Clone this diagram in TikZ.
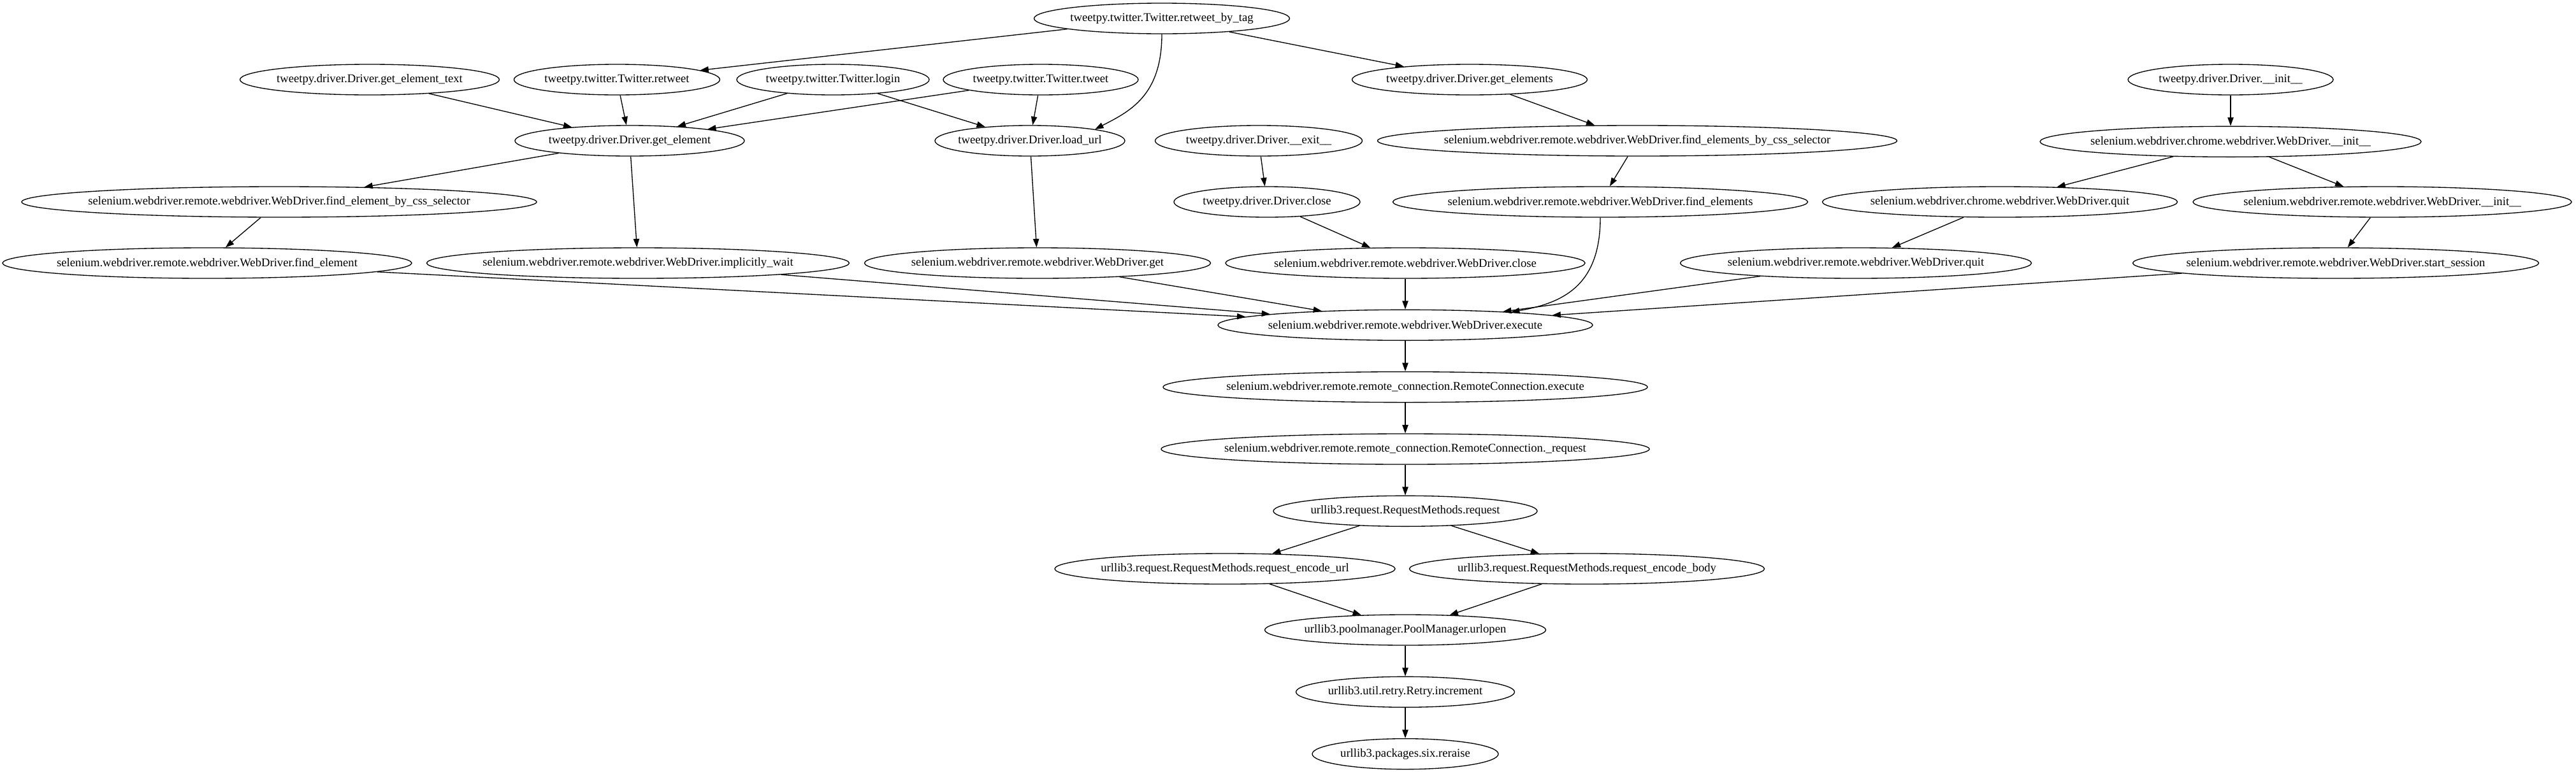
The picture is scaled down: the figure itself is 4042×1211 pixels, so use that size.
\documentclass[tikz,border=0pt]{standalone}
\usepackage{fontspec}
\setmainfont{Liberation Serif}
\usetikzlibrary{arrows.meta,positioning,shapes.geometric}
\tikzset{
  fn/.style={draw, ellipse, inner xsep=-60pt, inner ysep=0pt, minimum height=36pt,
    font=\fontsize{14pt}{16pt}\selectfont},
  wd/.style={minimum width=#1*0.75pt}
}

\begin{document}
\begin{tikzpicture}[x=0.75pt, y=-0.75pt, node distance=36pt, line width=1pt,
    >={Triangle[length=10pt,width=7pt]}]
   \useasboundingbox (0,0) rectangle (4042,1211);
   % callers
   \node[fn,wd=401] (rbt) at (1823,29) {tweetpy.twitter.Twitter.retweet\_by\_tag};
   \node[fn,wd=407] (gettext) at (580,125) {tweetpy.driver.Driver.get\_element\_text};
   \node[fn,wd=323] (retweet) at (968,125) {tweetpy.twitter.Twitter.retweet};
   \node[fn,wd=302] (login) at (1307,125) {tweetpy.twitter.Twitter.login};
   \node[fn,wd=306] (tweet) at (1633,125) {tweetpy.twitter.Twitter.tweet};
   \node[fn,wd=369] (getelems) at (2306,125) {tweetpy.driver.Driver.get\_elements};
   \node[fn,wd=322] (dinit) at (3500,125) {tweetpy.driver.Driver.\_\_init\_\_};
   \node[fn,wd=360] (getelem) at (988,221) {tweetpy.driver.Driver.get\_element};
   \node[fn,wd=298] (loadurl) at (1616,221) {tweetpy.driver.Driver.load\_url};
   \node[fn,wd=325] (dexit) at (1975,221) {tweetpy.driver.Driver.\_\_exit\_\_};
   \node[fn,wd=815] (findelemscss) at (2569,221) {selenium.webdriver.remote.webdriver.WebDriver.find\_elements\_by\_css\_selector};
   \node[fn,wd=598] (cinit) [below=of dinit] {selenium.webdriver.chrome.webdriver.WebDriver.\_\_init\_\_};
   \node[fn,wd=808] (findelemcss) at (438,317) {selenium.webdriver.remote.webdriver.WebDriver.find\_element\_by\_css\_selector};
   \node[fn,wd=292] (dclose) at (1988,317) {tweetpy.driver.Driver.close};
   \node[fn,wd=651] (findelems) at (2511,317) {selenium.webdriver.remote.webdriver.WebDriver.find\_elements};
   \node[fn,wd=557] (cquit) at (3138,317) {selenium.webdriver.chrome.webdriver.WebDriver.quit};
   \node[fn,wd=594] (rinit) at (3738,317) {selenium.webdriver.remote.webdriver.WebDriver.\_\_init\_\_};
   \node[fn,wd=642] (findelem) at (325,413) {selenium.webdriver.remote.webdriver.WebDriver.find\_element};
   \node[fn,wd=663] (implwait) at (1001,413) {selenium.webdriver.remote.webdriver.WebDriver.implicitly\_wait};
   \node[fn,wd=543] (wdget) at (1628,413) {selenium.webdriver.remote.webdriver.WebDriver.get};
   \node[fn,wd=564] (wdclose) at (2205,413) {selenium.webdriver.remote.webdriver.WebDriver.close};
   \node[fn,wd=551] (rquit) at (2912,413) {selenium.webdriver.remote.webdriver.WebDriver.quit};
   \node[fn,wd=637] (startsess) at (3665,413) {selenium.webdriver.remote.webdriver.WebDriver.start\_session};
   % common chain
   \node[fn,wd=588] (execute) [below=of wdclose] {selenium.webdriver.remote.webdriver.WebDriver.execute};
   \node[fn,wd=760] (rcexec) [below=of execute] {selenium.webdriver.remote.remote\_connection.RemoteConnection.execute};
   \node[fn,wd=766] (rcreq) [below=of rcexec] {selenium.webdriver.remote.remote\_connection.RemoteConnection.\_request};
   \node[fn,wd=414] (request) [below=of rcreq] {urllib3.request.RequestMethods.request};
   \node[fn,wd=534] (encurl) at (1922,893) {urllib3.request.RequestMethods.request\_encode\_url};
   \node[fn,wd=557] (encbody) at (2490,893) {urllib3.request.RequestMethods.request\_encode\_body};
   \node[fn,wd=441] (urlopen) at (2205,989) {urllib3.poolmanager.PoolManager.urlopen};
   \node[fn,wd=343] (increment) [below=of urlopen] {urllib3.util.retry.Retry.increment};
   \node[fn,wd=292] (reraise) [below=of increment] {urllib3.packages.six.reraise};
    \path[->] (rbt) edge (retweet);
    \path[->] (rbt) edge (getelems);
    \path[->] (gettext) edge (getelem);
    \path[->] (retweet) edge (getelem);
    \path[->] (login) edge (getelem);
    \path[->] (login) edge (loadurl);
    \path[->] (tweet) edge (getelem);
    \path[->] (tweet) edge (loadurl);
    \path[->] (getelem) edge (findelemcss);
    \path[->] (getelem) edge (implwait);
    \path[->] (findelemcss) edge (findelem);
    \path[->] (loadurl) edge (wdget);
    \path[->] (dexit) edge (dclose);
    \path[->] (dclose) edge (wdclose);
    \path[->] (getelems) edge (findelemscss);
    \path[->] (findelemscss) edge (findelems);
    \path[->] (dinit) edge (cinit);
    \path[->] (cinit) edge (cquit);
    \path[->] (cinit) edge (rinit);
    \path[->] (cquit) edge (rquit);
    \path[->] (rinit) edge (startsess);
    \path[->] (findelem) edge (execute);
    \path[->] (implwait) edge (execute);
    \path[->] (wdget) edge (execute);
    \path[->] (wdclose) edge (execute);
    \path[->] (rquit) edge (execute);
    \path[->] (startsess) edge (execute);
    \path[->] (execute) edge (rcexec);
    \path[->] (rcexec) edge (rcreq);
    \path[->] (rcreq) edge (request);
    \path[->] (request) edge (encurl);
    \path[->] (request) edge (encbody);
    \path[->] (encurl) edge (urlopen);
    \path[->] (encbody) edge (urlopen);
    \path[->] (urlopen) edge (increment);
    \path[->] (increment) edge (reraise);
    \draw [->] (rbt.south) .. controls +(0,97) and +(54,-28) .. (loadurl.10);
    \draw [->] (findelems.south) .. controls +(0,109) and +(79,-14) .. (execute.7);
\end{tikzpicture}
\end{document}
